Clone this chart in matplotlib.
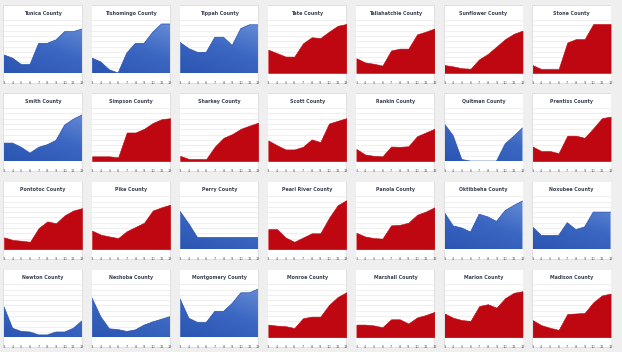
import matplotlib

matplotlib.use("Agg")

import matplotlib.pyplot as plt
import numpy as np
from matplotlib.colors import LinearSegmentedColormap
from matplotlib.patches import Rectangle

W, H = 622, 352
BG = "#efefef"
RED = "#bf0711"
INK = "#3a4150"
MUTED = "#555b66"
BLUE_MAP = LinearSegmentedColormap.from_list("blu", ["#2a55b2", "#3b67c2", "#6a8fd8"])
BLUE_EDGE = "#2a52ad"

MONTHS = [3, 4, 5, 6, 7, 8, 9, 10, 11, 12]
TICKS = [3, 4, 5, 6, 7, 8, 9, 10, 11, 12]

# row 1
TUNICA = [3.4, 2.8, 1.6, 1.6, 5.6, 5.6, 6.25, 7.8, 7.8, 8.3]
TISHOMINGO = [2.8, 2.1, 0.6, 0.0, 3.75, 5.6, 5.6, 7.7, 9.25, 9.25]
TIPPAH = [5.75, 4.6, 3.9, 3.9, 6.75, 6.75, 5.2, 8.4, 9.1, 9.1]
TATE = [4.4, 3.75, 3.1, 3.1, 5.6, 6.75, 6.6, 7.8, 8.9, 9.25]
TALLAHATCHIE = [2.8, 2.0, 1.75, 1.4, 4.25, 4.6, 4.6, 7.3, 7.8, 8.4]
SUNFLOWER = [1.5, 1.25, 0.9, 0.8, 2.6, 3.6, 5.0, 6.4, 7.4, 8.0]
STONE = [1.5, 0.75, 0.75, 0.75, 5.75, 6.4, 6.4, 9.25, 9.25, 9.25]
# row 2
SMITH = [3.4, 3.4, 2.6, 1.5, 2.6, 3.1, 3.9, 6.8, 7.9, 8.7]
SIMPSON = [0.9, 0.9, 0.9, 0.7, 5.4, 5.4, 6.1, 7.2, 7.9, 8.1]
SHARKEY = [1.0, 0.4, 0.4, 0.4, 2.75, 4.4, 5.1, 6.1, 6.7, 7.25]
SCOTT = [3.9, 3.0, 2.2, 2.2, 2.7, 4.1, 3.6, 7.1, 7.6, 8.1]
RANKIN = [2.3, 1.25, 1.0, 0.9, 2.75, 2.7, 2.8, 4.7, 5.4, 6.1]
QUITMAN = [7.0, 4.8, 0.3, 0.0, 0.0, 0.0, 0.0, 3.25, 4.7, 6.25]
PRENTISS = [2.75, 1.9, 1.9, 1.5, 4.8, 4.8, 4.4, 6.2, 8.1, 8.4]
# row 3
PONTOTOC = [2.25, 1.75, 1.6, 1.4, 4.0, 5.25, 4.9, 6.4, 7.3, 7.75]
PIKE = [3.5, 2.75, 2.4, 2.1, 3.4, 4.2, 5.0, 7.3, 7.9, 8.4]
PERRY = [7.1, 4.8, 2.2, 2.2, 2.2, 2.2, 2.2, 2.2, 2.2, 2.2]
PEARL_RIVER = [3.8, 3.8, 2.2, 1.4, 2.2, 3.0, 3.0, 5.9, 8.3, 9.25]
PANOLA = [3.1, 2.4, 2.1, 2.0, 4.5, 4.6, 5.0, 6.5, 7.1, 7.9]
OKTIBBEHA = [6.9, 4.4, 4.0, 3.25, 6.6, 6.1, 5.25, 7.3, 8.25, 9.1]
NOXUBEE = [4.2, 2.6, 2.6, 2.6, 5.0, 3.7, 4.2, 7.0, 7.0, 7.0]
# row 4
NEWTON = [5.75, 1.7, 1.1, 1.0, 0.45, 0.45, 1.0, 1.0, 1.7, 3.1]
NESHOBA = [7.4, 3.9, 1.6, 1.45, 1.1, 1.4, 2.3, 2.9, 3.4, 3.9]
MONTGOMERY = [7.2, 3.6, 2.8, 2.8, 4.9, 4.9, 6.4, 8.4, 8.4, 9.1]
MONROE = [2.4, 2.2, 2.1, 1.75, 3.6, 3.9, 3.9, 6.1, 7.6, 8.5]
MARSHALL = [2.4, 2.4, 2.25, 1.9, 3.4, 3.4, 2.6, 3.75, 4.2, 4.8]
MARION = [4.5, 3.7, 3.25, 3.1, 5.9, 6.25, 5.6, 7.4, 8.4, 8.7]
MADISON = [3.25, 2.3, 1.8, 1.4, 4.4, 4.5, 4.6, 6.6, 7.9, 8.25]

COUNTIES = [
    "Tunica County", "Tishomingo County", "Tippah County", "Tate County",
    "Tallahatchie County", "Sunflower County", "Stone County",
    "Smith County", "Simpson County", "Sharkey County", "Scott County",
    "Rankin County", "Quitman County", "Prentiss County",
    "Pontotoc County", "Pike County", "Perry County", "Pearl River County",
    "Panola County", "Oktibbeha County", "Noxubee County",
    "Newton County", "Neshoba County", "Montgomery County", "Monroe County",
    "Marshall County", "Marion County", "Madison County",
]
PARTY = [
    "D", "D", "D", "R", "R", "R", "R",
    "D", "R", "R", "R", "R", "D", "R",
    "R", "R", "D", "R", "R", "D", "D",
    "D", "D", "D", "R", "R", "R", "R",
]
SERIES = [
    TUNICA, TISHOMINGO, TIPPAH, TATE, TALLAHATCHIE, SUNFLOWER, STONE,
    SMITH, SIMPSON, SHARKEY, SCOTT, RANKIN, QUITMAN, PRENTISS,
    PONTOTOC, PIKE, PERRY, PEARL_RIVER, PANOLA, OKTIBBEHA, NOXUBEE,
    NEWTON, NESHOBA, MONTGOMERY, MONROE, MARSHALL, MARION, MADISON,
]

COLS = 7
PX0, PY0 = 4.0, 6.0      # first panel top-left, px
STEP_X, STEP_Y = 88.1, 88.1
PW, PH = 78.0, 77.0
PLOT_TOP, PLOT_BOT = 14.0, 67.0


def fx(px):
    return px / W


def fy(py):
    return 1 - py / H


def main():
    fig = plt.figure(figsize=(W / 100, H / 100), dpi=100, facecolor=BG)

    yy, xx = np.mgrid[0:1:64j, 0:1:64j]
    grad = 0.65 * yy + 0.35 * xx

    for i, (name, party, vals) in enumerate(zip(COUNTIES, PARTY, SERIES)):
        r, c = divmod(i, COLS)
        left = PX0 + c * STEP_X
        top = PY0 + r * STEP_Y

        # card with a faint shadow
        fig.patches.append(Rectangle((fx(left - 0.6), fy(top + PH + 0.8)), fx(PW + 1.2), (PH + 1.4) / H,
                                     transform=fig.transFigure, facecolor="#e0e0e0",
                                     edgecolor="none", zorder=-3))
        fig.patches.append(Rectangle((fx(left), fy(top + PH)), fx(PW), PH / H,
                                     transform=fig.transFigure, facecolor="white",
                                     edgecolor="none", zorder=-2))
        fig.text(fx(left + PW / 2), fy(top + 7.5), name, ha="center", va="center",
                 fontsize=3.4, weight="bold", color=INK)

        ax = fig.add_axes([fx(left), fy(top + PLOT_BOT), fx(PW), (PLOT_BOT - PLOT_TOP) / H])
        ax.set_facecolor("none")
        for s in ax.spines.values():
            s.set_visible(False)
        ax.set_yticks(np.arange(1, 11))
        ax.yaxis.grid(True, color="#e9e9e9", lw=0.5)
        ax.set_axisbelow(True)
        ax.tick_params(axis="y", left=False, labelleft=False)
        ax.set_xticks(TICKS)
        ax.set_xticklabels([str(t) for t in TICKS])
        ax.tick_params(axis="x", bottom=False, labelsize=2.6, labelcolor=MUTED, pad=2.0)

        if party == "R":
            ax.fill_between(MONTHS, vals, 0, color=RED, lw=0.4, zorder=2)
        else:
            poly = ax.fill_between(MONTHS, vals, 0, facecolor="none", edgecolor="none", zorder=2)
            im = ax.imshow(grad, cmap=BLUE_MAP, extent=[3, 12, 0, 10], origin="lower",
                           aspect="auto", zorder=2, interpolation="bilinear")
            im.set_clip_path(poly.get_paths()[0], transform=ax.transData)
            ax.plot(MONTHS, vals, color=BLUE_EDGE, lw=0.5, zorder=3)
            ax.axhline(0, color=BLUE_EDGE, lw=0.8, zorder=3)
        ax.set_xlim(3, 12)
        ax.set_ylim(0, 10)

    fig.savefig("out.png", dpi=100, facecolor=BG)
    plt.close(fig)


if __name__ == "__main__":
    main()
